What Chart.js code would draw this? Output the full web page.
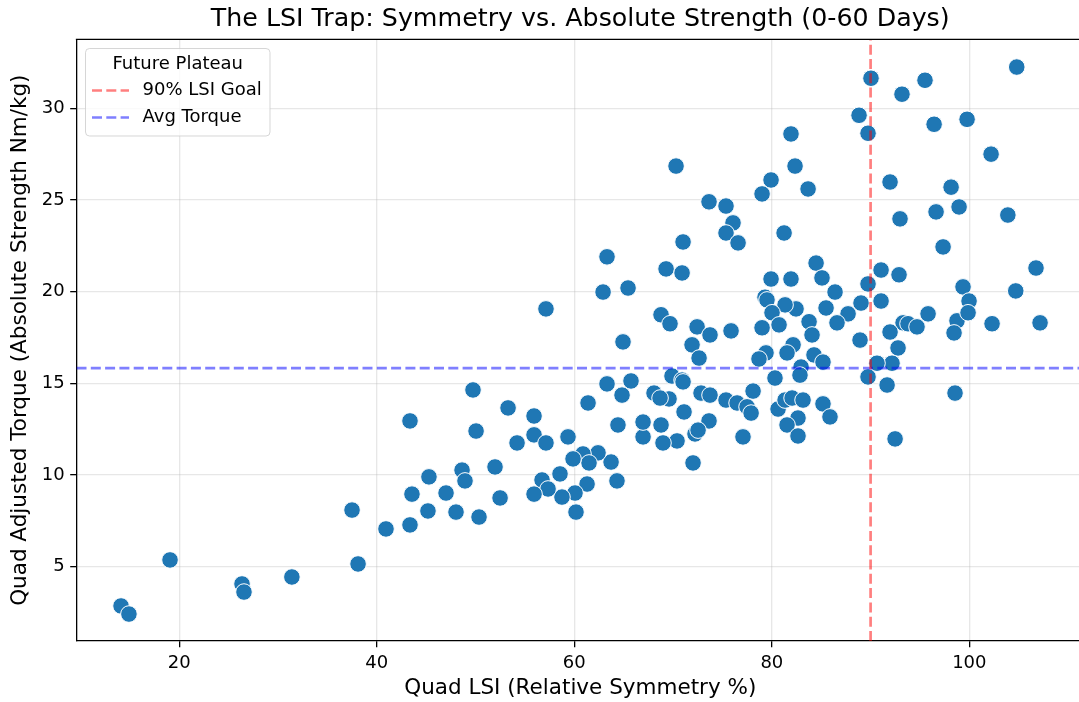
<!DOCTYPE html>
<html>
<head>
<meta charset="utf-8">
<script src="https://cdn.jsdelivr.net/npm/chart.js@4.4.1/dist/chart.umd.min.js"></script>
<style>
  html, body { margin: 0; padding: 0; background: #fff; overflow: hidden; }
  #wrap { width: 1079px; height: 702px; overflow: hidden; }
  canvas { display: block; }
</style>
</head>
<body>
<div id="wrap"><canvas id="chart" width="1084" height="702"></canvas></div>
<script>
// Data

const lsi = [
  14.1, 14.9, 19.06, 26.35, 26.55, 31.4, 37.49, 38.1, 40.93, 43.36,
  43.36, 43.56, 45.28, 45.18, 47.01, 48.02, 48.63, 48.93, 49.74, 50.05,
  50.35, 51.97, 52.48, 53.29, 54.2, 55.92, 55.92, 57.13, 59.36, 61.39,
  63.31, 65.74, 64.83, 64.93, 68.07, 69.59, 69.89, 70.91, 71.01, 71.92,
  72.63, 72.83, 73.74, 75.36, 76.48, 71.11, 73.64, 72.22, 72.53, 72.02,
  70.4, 68.98, 68.78, 66.96, 66.96, 64.42, 63.72, 64.32, 62.4, 60.88,
  61.49, 59.87, 61.29, 60.07, 60.17, 58.55, 58.75, 56.73, 57.34, 55.92,
  70.3, 73.64, 75.36, 76.07, 75.36, 76.58, 71.01, 63.31, 69.29, 70.91,
  62.91, 65.44, 57.13, 68.78, 69.69, 72.43, 73.74, 75.87,
  90.04, 104.8, 95.51, 93.18, 88.83, 89.74, 96.43, 99.77, 81.94, 82.35,
  102.2, 79.92, 79.01, 83.67, 91.97, 98.15, 98.96, 96.63, 92.98, 103.9,
  81.24, 97.34, 84.48, 85.08, 79.92, 81.94, 91.06, 92.88, 89.74, 86.4,
  106.75, 104.7, 99.36, 99.97, 91.06, 89.03, 87.72, 86.6, 85.49, 82.45,
  81.34, 79.31, 79.51, 80.02, 80.73, 79.01, 83.77, 84.07, 95.82, 93.29,
  93.79, 94.7, 98.75, 99.87, 102.3, 107.16, 98.45, 91.97, 88.93,
  82.15, 81.54, 79.41, 78.7, 84.27, 85.18, 82.96, 82.85, 80.32, 92.78,
  92.17, 90.65, 89.74, 91.67, 98.55, 92.48, 78.1, 77.49, 77.9, 80.63,
  81.34, 82.05, 83.16, 82.65, 81.54, 82.65, 85.18, 85.89, 77.08, 68.68
];

const torque = [
  2.86, 2.42, 5.37, 4.06, 3.62, 4.44, 8.09, 5.15, 7.06, 7.28,
  12.95, 8.96, 9.9, 8.04, 9.02, 7.98, 10.27, 9.68, 14.64, 12.4,
  7.71, 10.44, 8.75, 13.66, 11.75, 13.22, 12.19, 11.75, 12.08, 13.93,
  14.97, 15.13, 14.36, 17.26, 14.47, 14.15, 15.4, 15.18, 15.08, 17.1,
  16.38, 14.47, 14.36, 14.09, 13.93, 13.44, 12.95, 12.24, 12.45, 10.66,
  11.86, 11.75, 12.73, 12.08, 12.89, 12.73, 10.71, 9.68, 11.21, 11.15,
  10.66, 10.88, 9.51, 9.02, 7.98, 10.06, 8.8, 9.73, 9.24, 8.96,
  26.85, 24.9, 24.67, 23.75, 23.2, 22.66, 22.71, 21.9, 21.24, 21.02,
  19.98, 20.2, 19.06, 18.74, 18.25, 18.08, 17.64, 17.86,
  31.64, 32.25, 31.53, 30.77, 29.62, 28.64, 29.13, 29.4, 28.6, 26.85,
  27.5, 26.09, 25.33, 25.6, 25.98, 25.7, 24.62, 24.35, 23.97, 24.18,
  23.2, 22.44, 21.56, 20.75, 20.69, 20.69, 21.18, 20.92, 20.42, 19.98,
  21.29, 20.04, 20.26, 19.49, 19.49, 19.38, 18.79, 18.3, 19.11, 19.06,
  19.28, 19.7, 19.55, 18.85, 18.19, 18.03, 18.36, 17.64, 18.79, 18.3,
  18.25, 18.08, 18.41, 18.85, 18.25, 18.3, 17.75, 17.8, 17.36,
  17.1, 16.66, 16.66, 16.33, 16.55, 16.16, 15.89, 15.45, 15.29, 16.93,
  16.1, 16.1, 15.35, 14.91, 14.47, 11.97, 14.58, 13.72, 13.38, 13.6,
  14.09, 14.2, 14.09, 13.11, 12.73, 12.13, 13.88, 13.17, 12.08, 14.2
];

const lsiGoal = 90;
const avgTorque = 15.83;

const xTicks = [20, 40, 60, 80, 100];
const yTicks = [5, 10, 15, 20, 25, 30];

// the axes run a little past the right edge of the picture
const xMin = 9.59, xMax = 111.61;
const yMin = 0.95, yMax = 33.76;

const FONT = 'DejaVu Sans';
Chart.defaults.font.family = FONT;
Chart.defaults.color = '#000';

const points = lsi.map((v, i) => ({ x: v, y: torque[i] }));

// Legend drawn matplotlib style, inside the axes, plus the top spine

const axesExtras = {
  id: 'axesExtras',
  afterDraw(chart) {
    const ctx = chart.ctx;
    const area = chart.chartArea;
    ctx.save();

    // top spine
    ctx.strokeStyle = '#000';
    ctx.lineWidth = 1.3;
    ctx.beginPath();
    ctx.moveTo(area.left - 0.65, area.top);
    ctx.lineTo(area.right, area.top);
    ctx.stroke();

    // legend frame
    const bx = 85.5, by = 48.5, bw = 184.5, bh = 87.5, r = 4;
    ctx.beginPath();
    ctx.roundRect(bx, by, bw, bh, r);
    ctx.fillStyle = 'rgba(255,255,255,0.8)';
    ctx.fill();
    ctx.strokeStyle = 'rgba(204,204,204,0.8)';
    ctx.lineWidth = 1;
    ctx.stroke();

    ctx.fillStyle = '#000';
    ctx.font = '18px "' + FONT + '"';
    ctx.textBaseline = 'middle';
    ctx.textAlign = 'center';
    ctx.fillText('Future Plateau', bx + bw / 2, 64.5);

    const rows = [90.5, 117.5];
    const lines = chart.data.datasets.filter(d => d.type === 'line');
    lines.forEach((ds, i) => {
      ctx.strokeStyle = ds.borderColor;
      ctx.lineWidth = ds.borderWidth;
      ctx.setLineDash(ds.borderDash);
      ctx.beginPath();
      ctx.moveTo(92, rows[i]);
      ctx.lineTo(129, rows[i]);
      ctx.stroke();
      ctx.setLineDash([]);
      ctx.textAlign = 'left';
      ctx.fillStyle = '#000';
      ctx.fillText(ds.label, 142.5, rows[i]);
    });
    ctx.restore();
  }
};

new Chart(document.getElementById('chart'), {
  type: 'scatter',
  data: {
    datasets: [
      {
        type: 'line',
        label: '90% LSI Goal',
        data: [{ x: lsiGoal, y: yMin }, { x: lsiGoal, y: yMax }],
        borderColor: 'rgba(255,0,0,0.5)',
        borderWidth: 2.7,
        borderDash: [10, 4.3],
        pointRadius: 0,
        order: 0
      },
      {
        type: 'line',
        label: 'Avg Torque',
        data: [{ x: xMin, y: avgTorque }, { x: xMax, y: avgTorque }],
        borderColor: 'rgba(0,0,255,0.5)',
        borderWidth: 2.7,
        borderDash: [10, 4.3],
        pointRadius: 0,
        order: 0
      },
      {
        label: 'Athletes',
        data: points,
        backgroundColor: '#1f77b4',
        borderColor: '#ffffff',
        borderWidth: 1,
        pointRadius: 8.3,
        pointHoverRadius: 8.3,
        order: 1
      }
    ]
  },
  options: {
    responsive: false,
    devicePixelRatio: 1,
    animation: false,
    layout: { autoPadding: false, padding: { left: 0, top: 0, right: 0, bottom: 0 } },
    plugins: {
      legend: { display: false },
      tooltip: { enabled: false },
      title: {
        display: true,
        fullSize: false,
        text: 'The LSI Trap: Symmetry vs. Absolute Strength (0-60 Days)',
        color: '#000',
        font: { size: 25.3, weight: 'normal', family: FONT },
        padding: { top: 4.3, bottom: 4.7 }
      }
    },
    scales: {
      x: {
        type: 'linear',
        min: xMin,
        max: xMax,
        afterBuildTicks: s => { s.ticks = xTicks.map(v => ({ value: v })); },
        afterFit: s => { s.height = 61; },
        ticks: { font: { size: 18 }, color: '#000', padding: 5.5, maxRotation: 0 },
        grid: {
          color: 'rgba(176,176,176,0.3)',
          lineWidth: 1.3,
          tickColor: '#000',
          tickLength: 6.3,
          tickWidth: 1.3
        },
        border: { display: true, color: '#000', width: 1.3 },
        title: {
          display: true,
          text: 'Quad LSI (Relative Symmetry %)',
          font: { size: 21.5 },
          color: '#000',
          padding: { top: 0, bottom: 1 }
        }
      },
      y: {
        type: 'linear',
        min: yMin,
        max: yMax,
        afterBuildTicks: s => { s.ticks = yTicks.map(v => ({ value: v })); },
        afterFit: s => { s.width = 76.5; },
        ticks: { font: { size: 18 }, color: '#000', padding: 5.5 },
        grid: {
          color: 'rgba(176,176,176,0.3)',
          lineWidth: 1.3,
          tickColor: '#000',
          tickLength: 6.3,
          tickWidth: 1.3
        },
        border: { display: true, color: '#000', width: 1.3 },
        title: {
          display: true,
          text: 'Quad Adjusted Torque (Absolute Strength Nm/kg)',
          font: { size: 21.5 },
          color: '#000',
          padding: { top: 8, bottom: 0 }
        }
      }
    }
  },
  plugins: [axesExtras]
});
</script>
</body>
</html>
